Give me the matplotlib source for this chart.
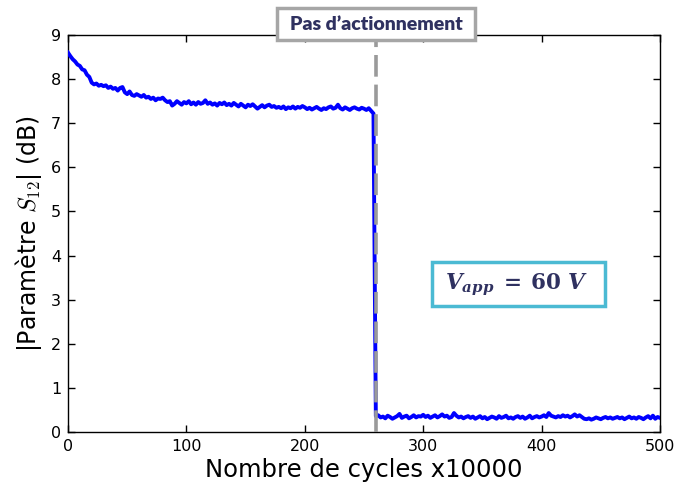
import matplotlib
matplotlib.use("Agg")
import matplotlib.pyplot as plt
from matplotlib.patches import Rectangle
import numpy as np

# ---- data ----
x_before = list(range(0, 260, 2))
y_before = [8.60, 8.52, 8.45, 8.40, 8.33, 8.30, 8.22, 8.20, 8.10, 8.05,
            7.92, 7.88, 7.90, 7.85, 7.87, 7.84, 7.86, 7.80, 7.83, 7.78,
            7.80, 7.74, 7.80, 7.82, 7.70, 7.66, 7.72, 7.64, 7.62, 7.66,
            7.63, 7.60, 7.64, 7.58, 7.60, 7.55, 7.58, 7.52, 7.56, 7.55,
            7.58, 7.52, 7.48, 7.50, 7.40, 7.44, 7.50, 7.46, 7.42, 7.48,
            7.45, 7.50, 7.43, 7.47, 7.42, 7.48, 7.44, 7.46, 7.52, 7.44,
            7.47, 7.42, 7.45, 7.40, 7.46, 7.43, 7.47, 7.41, 7.44, 7.40,
            7.46, 7.42, 7.38, 7.44, 7.40, 7.36, 7.42, 7.39, 7.43, 7.38,
            7.33, 7.37, 7.41, 7.36, 7.40, 7.42, 7.37, 7.39, 7.35, 7.37,
            7.34, 7.38, 7.32, 7.36, 7.34, 7.38, 7.33, 7.37, 7.35, 7.39,
            7.36, 7.32, 7.35, 7.31, 7.34, 7.37, 7.33, 7.30, 7.34, 7.32,
            7.36, 7.38, 7.33, 7.35, 7.42, 7.34, 7.31, 7.36, 7.33, 7.30,
            7.34, 7.36, 7.33, 7.31, 7.35, 7.33, 7.30, 7.34, 7.28, 7.22]
x_after = list(range(260, 502, 2))
y_after = [0.36, 0.38, 0.33, 0.35, 0.31, 0.37, 0.34, 0.30, 0.33, 0.36,
           0.41, 0.32, 0.35, 0.37, 0.31, 0.34, 0.38, 0.33, 0.36, 0.35,
           0.39, 0.34, 0.37, 0.32, 0.35, 0.38, 0.33, 0.36, 0.40, 0.35,
           0.37, 0.32, 0.34, 0.43, 0.37, 0.33, 0.35, 0.31, 0.34, 0.36,
           0.32, 0.35, 0.30, 0.33, 0.36, 0.31, 0.34, 0.29, 0.32, 0.35,
           0.33, 0.30, 0.36, 0.32, 0.34, 0.37, 0.31, 0.33, 0.30, 0.34,
           0.36, 0.32, 0.35, 0.30, 0.33, 0.37, 0.31, 0.34, 0.36, 0.33,
           0.35, 0.38, 0.34, 0.43, 0.37, 0.35, 0.33, 0.36, 0.34, 0.38,
           0.35, 0.37, 0.33, 0.36, 0.40, 0.35, 0.38, 0.34, 0.30, 0.29,
           0.31, 0.28, 0.30, 0.33, 0.31, 0.29, 0.32, 0.34, 0.31, 0.33,
           0.30, 0.32, 0.34, 0.31, 0.33, 0.29, 0.32, 0.35, 0.31, 0.33,
           0.30, 0.34, 0.32, 0.29, 0.33, 0.36, 0.31, 0.37, 0.30, 0.34,
           0.32]
switch_x = 260
x_ticks = [0, 100, 200, 300, 400, 500]
y_ticks = [0, 1, 2, 3, 4, 5, 6, 7, 8, 9]

x_all = x_before + x_after
y_all = y_before + y_after

fig = plt.figure(figsize=(6.75, 4.91), dpi=100)
ax = fig.add_axes([68/675, 1-432/491, (660-68)/675, (432-35)/491])

ax.plot(x_all, y_all, color="#0000FF", lw=2.8, zorder=3)
ax.axvline(switch_x, color="#9a9a9a", lw=2.6, dashes=(6, 2.2), zorder=4)

ax.set_xlim(0, 500)
ax.set_ylim(0, 9)
ax.set_xticks(x_ticks)
ax.set_yticks(y_ticks)
ax.tick_params(direction="in", top=True, right=True, length=5, width=1,
               labelsize=11.5, pad=5)
for s in ax.spines.values():
    s.set_linewidth(1.0)

ax.set_xlabel("Nombre de cycles x10000", fontsize=17.5, labelpad=3)
ax.set_ylabel(r"|Paramètre $S_{12}$| (dB)", fontsize=17, labelpad=5,
              math_fontfamily="cm")

# annotation box "Pas d'actionnement"
r1 = Rectangle((277/675, 1-40/491), 198/675, 32/491, transform=fig.transFigure,
               facecolor="white", edgecolor="#a6a6a6", lw=2.5, zorder=10,
               clip_on=False)
fig.add_artist(r1)
fig.text(376/675, 1-24/491, "Pas d’actionnement", ha="center", va="center",
         fontsize=14, fontweight="heavy", family="Lato", color="#2f3160",
         zorder=11)

# annotation box V_app
r2 = Rectangle((432/675, 1-306/491), 173/675, 44/491, transform=fig.transFigure,
               facecolor="white", edgecolor="#4bbad3", lw=2.5, zorder=10,
               clip_on=False)
fig.add_artist(r2)
fig.text(517/675, 1-285/491,
         r"$\mathbfit{V}_{\mathbfit{app}}\;\mathbf{=}\;\mathbf{60}\ \mathbfit{V}$",
         ha="center", va="center", fontsize=15.5, color="#2f3160", zorder=11,
         math_fontfamily="dejavuserif")

fig.savefig("out.png", dpi=100)
